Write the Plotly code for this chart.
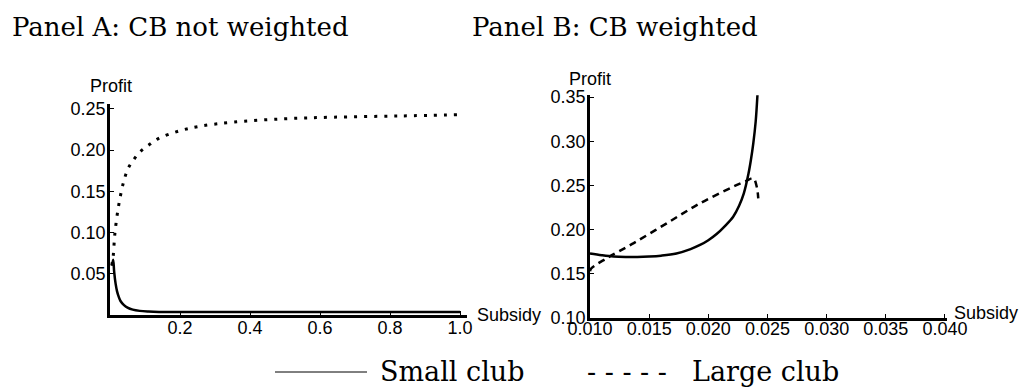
import plotly.graph_objects as go

# ---- Data ----
# Panel A: CB not weighted
a_small_x = [0.006, 0.009, 0.012, 0.016, 0.020, 0.025, 0.030, 0.040, 0.050, 0.065, 0.085, 0.11, 0.14, 0.2, 0.3, 0.5, 0.7, 1.0]
a_small_y = [0.060, 0.067, 0.052, 0.038, 0.029, 0.022, 0.017, 0.012, 0.009, 0.0065, 0.005, 0.0042, 0.0037, 0.0035, 0.0035, 0.0035, 0.0035, 0.0035]
a_large_x = [0.005, 0.009, 0.014, 0.024, 0.038, 0.052, 0.067, 0.086, 0.11, 0.138, 0.195, 0.257, 0.352, 0.495, 0.638, 0.829, 1.0]
a_large_y = [0.060, 0.071, 0.099, 0.131, 0.160, 0.178, 0.188, 0.198, 0.206, 0.214, 0.223, 0.229, 0.234, 0.238, 0.240, 0.2415, 0.243]

# Panel B: CB weighted
b_small_x = [0.0100, 0.0110, 0.0120, 0.0130, 0.0140, 0.0150, 0.0160, 0.0173, 0.0185, 0.0193, 0.0200, 0.0207, 0.0214, 0.0221, 0.0226, 0.0230, 0.0234, 0.0236, 0.0238, 0.0240, 0.02415]
b_small_y = [0.173, 0.171, 0.1695, 0.169, 0.169, 0.1695, 0.1705, 0.173, 0.178, 0.1826, 0.188, 0.195, 0.204, 0.2146, 0.227, 0.241, 0.2637, 0.279, 0.2976, 0.322, 0.352]
b_large_x = [0.0100, 0.0101, 0.0114, 0.01366, 0.01648, 0.0193, 0.0221, 0.02324, 0.0238, 0.02409, 0.02422]
b_large_y = [0.153, 0.156, 0.1675, 0.1845, 0.2071, 0.2297, 0.2485, 0.2553, 0.258, 0.2485, 0.2354]

a_xticks = [0.2, 0.4, 0.6, 0.8, 1.0]
a_yticks = [0.05, 0.10, 0.15, 0.20, 0.25]
b_xticks = [0.010, 0.015, 0.020, 0.025, 0.030, 0.035, 0.040]
b_yticks = [0.10, 0.15, 0.20, 0.25, 0.30, 0.35]

W, H = 1030, 389
def px(x):
    return x / W
def py(y):
    return 1 - y / H

fig = go.Figure()
fig.add_trace(go.Scatter(x=a_large_x, y=a_large_y, mode="lines", xaxis="x", yaxis="y",
                         line=dict(color="black", width=3, dash="3px,7px", shape="spline"), showlegend=False))
fig.add_trace(go.Scatter(x=a_small_x, y=a_small_y, mode="lines", xaxis="x", yaxis="y",
                         line=dict(color="black", width=2.5, shape="spline"), showlegend=False))
fig.add_trace(go.Scatter(x=b_small_x, y=b_small_y, mode="lines", xaxis="x2", yaxis="y2",
                         line=dict(color="black", width=2.5, shape="spline"), showlegend=False))
fig.add_trace(go.Scatter(x=b_large_x, y=b_large_y, mode="lines", xaxis="x2", yaxis="y2",
                         line=dict(color="black", width=2.5, dash="7px,5px", shape="spline"), showlegend=False))

tickfont = dict(family="Liberation Sans, Arial, sans-serif", size=18, color="black")
axis_common = dict(showgrid=False, zeroline=False, showline=True, linecolor="black", linewidth=2.5,
                   ticks="inside", ticklen=4, tickwidth=1, tickcolor="black", tickfont=tickfont,
                   automargin=False)

fig.update_layout(
    width=W, height=H,
    margin=dict(l=0, r=0, t=0, b=0, autoexpand=False),
    paper_bgcolor="white", plot_bgcolor="white",
    xaxis=dict(domain=[px(110), px(467)], range=[0, 1.02], anchor="y", ticklabelstandoff=-5,
               tickvals=a_xticks, ticktext=["0.2", "0.4", "0.6", "0.8", "1.0"], **axis_common),
    yaxis=dict(domain=[py(315), py(104)], range=[0, 0.256], anchor="x", ticklabelstandoff=-2,
               tickvals=a_yticks, ticktext=["0.05", "0.10", "0.15", "0.20", "0.25"], **axis_common),
    xaxis2=dict(domain=[px(590), px(947)], range=[0.010, 0.04017], anchor="y2", ticklabelstandoff=-7,
                tickvals=b_xticks, ticktext=["0.010", "0.015", "0.020", "0.025", "0.030", "0.035", "0.040"], **axis_common),
    yaxis2=dict(domain=[py(318), py(95)], range=[0.10, 0.35226], anchor="x2", ticklabelstandoff=-2,
                tickvals=b_yticks, ticktext=["0.10", "0.15", "0.20", "0.25", "0.30", "0.35"], **axis_common),
)

title_font = dict(family="DejaVu Serif, serif", size=26, color="black")
leg_font = dict(family="DejaVu Serif, serif", size=27, color="black")
labfont = dict(family="Liberation Sans, Arial, sans-serif", size=18, color="black")
ann = [
    dict(text="Panel A: CB not weighted", x=px(10), y=py(27), xanchor="left", yanchor="middle", font=title_font),
    dict(text="Panel B: CB weighted", x=px(470), y=py(27), xanchor="left", yanchor="middle", font=title_font),
    dict(text="Profit", x=px(88), y=py(86), xanchor="left", yanchor="middle", font=labfont),
    dict(text="Subsidy", x=px(475), y=py(315), xanchor="left", yanchor="middle", font=labfont),
    dict(text="Profit", x=px(567), y=py(79), xanchor="left", yanchor="middle", font=labfont),
    dict(text="Subsidy", x=px(952), y=py(313), xanchor="left", yanchor="middle", font=labfont),
    dict(text="Small club", x=px(378), y=py(371), xanchor="left", yanchor="middle", font=leg_font),
    dict(text="- - - - -", x=px(585), y=py(371), xanchor="left", yanchor="middle", font=leg_font),
    dict(text="Large club", x=px(690), y=py(371), xanchor="left", yanchor="middle", font=leg_font),
]
for a in ann:
    a.update(xref="paper", yref="paper", showarrow=False)
fig.update_layout(annotations=ann)
fig.add_shape(type="line", xref="paper", yref="paper", x0=px(275), x1=px(367), y0=py(372), y1=py(372),
              line=dict(color="black", width=1))

fig.write_html("out.html", config={"displayModeBar": False},
               post_script="document.body.style.margin='0';document.body.style.overflow='hidden';")
